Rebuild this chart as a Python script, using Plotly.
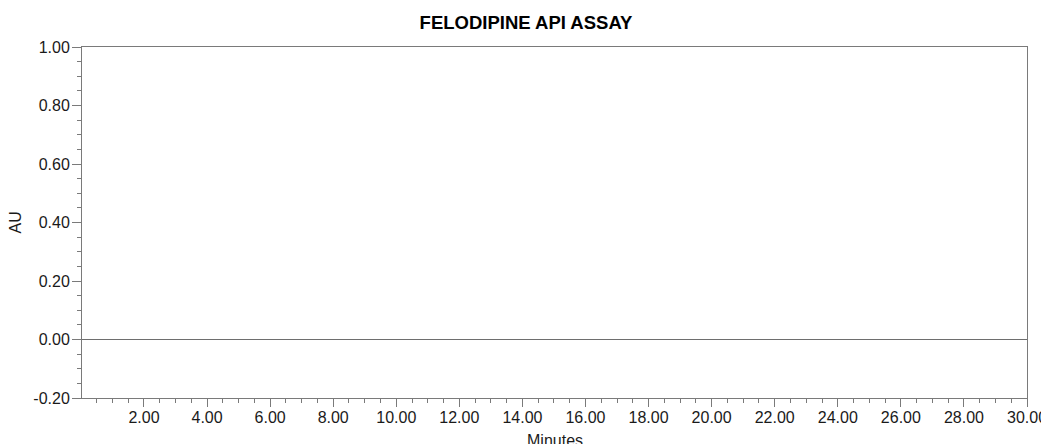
import plotly.graph_objects as go

# Data: chromatogram trace (flat baseline)
minutes = [0.0, 30.0]
au = [0.0, 0.0]

x_tickvals = [2, 4, 6, 8, 10, 12, 14, 16, 18, 20, 22, 24, 26, 28, 30]
x_ticktext = [f"{v:.2f}" for v in x_tickvals]
y_tickvals = [-0.2, 0.0, 0.2, 0.4, 0.6, 0.8, 1.0]
y_ticktext = [f"{v:.2f}" for v in y_tickvals]
x_title = "Minutes"
y_title = "AU"

AXIS = "#7a7a7a"
TXT = "#1a1a1a"
FONT = "Liberation Sans, Arial, sans-serif"

# page body has an 8px default margin; size the figure to fit the window
W, H = 1041, 436
ML, MR, MT, MB = 74, 22, 39, 46
PW, PH = W - ML - MR, H - MT - MB

fig = go.Figure()
fig.add_trace(go.Scatter(x=minutes, y=au, mode="lines",
                         line=dict(color="#6e6e6e", width=1),
                         showlegend=False, hoverinfo="skip"))

fig.update_layout(
    width=W, height=H,
    margin=dict(l=ML, r=MR, t=MT, b=MB),
    paper_bgcolor="white", plot_bgcolor="white",
    font=dict(family=FONT, size=16, color=TXT),
    title=dict(text="<b>FELODIPINE API ASSAY</b>", x=518 / W, xanchor="center",
               y=1 - 15 / H, yanchor="middle",
               font=dict(family=FONT, size=18.5, color="#000")),
    annotations=[
        dict(text=x_title, xref="paper", yref="paper", x=0.5, y=-42 / PH,
             xanchor="center", yanchor="middle", showarrow=False,
             font=dict(size=16, color=TXT)),
        dict(text=y_title, xref="paper", yref="paper", x=-67 / PW, y=0.5,
             xanchor="center", yanchor="middle", showarrow=False, textangle=-90,
             font=dict(size=16, color=TXT)),
    ],
)

fig.update_xaxes(
    range=[0.035, 30], tickmode="array", tickvals=x_tickvals, ticktext=x_ticktext,
    ticks="outside", ticklen=8, tickwidth=1, tickcolor=AXIS,
    minor=dict(dtick=0.5, tick0=0, ticks="outside", ticklen=4, tickwidth=1, tickcolor=AXIS, showgrid=False),
    showline=True, linecolor=AXIS, linewidth=1, mirror=True,
    showgrid=False, zeroline=False,
    tickfont=dict(size=16, color=TXT), ticklabelstandoff=-3,
    automargin=False,
)
fig.update_yaxes(
    range=[-0.2, 1.0], tickmode="array", tickvals=y_tickvals, ticktext=y_ticktext,
    ticks="outside", ticklen=9, tickwidth=1, tickcolor=AXIS,
    minor=dict(dtick=0.05, tick0=0, ticks="outside", ticklen=4, tickwidth=1, tickcolor=AXIS, showgrid=False),
    showline=True, linecolor=AXIS, linewidth=1, mirror=True,
    showgrid=False, zeroline=False,
    tickfont=dict(size=16, color=TXT), ticklabelstandoff=-1,
    automargin=False,
)

fig.write_html("out.html")
